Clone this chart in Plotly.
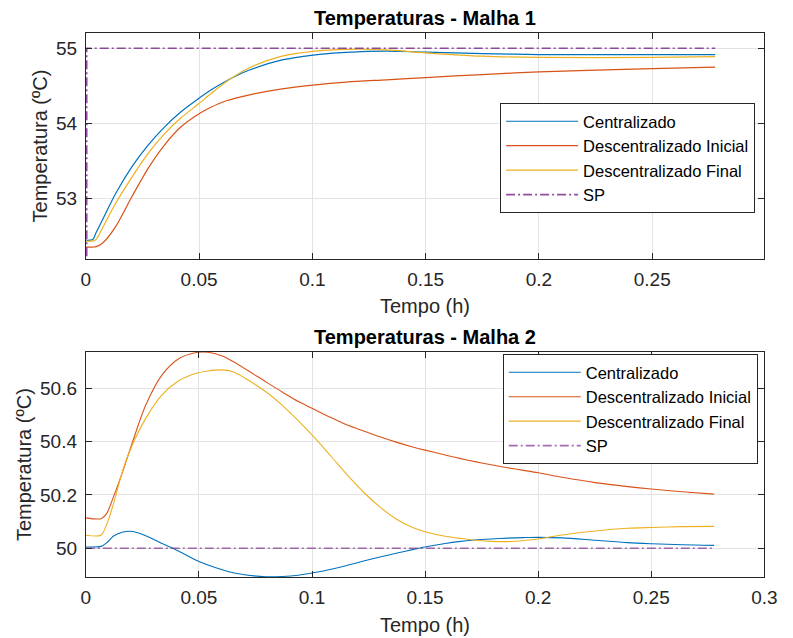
import plotly.graph_objects as go

# ---- Malha 1 (time in hours, temperatures in ºC) ----
t1 = [0, 0.003, 0.0045, 0.0073, 0.0131, 0.0203, 0.0275, 0.0347, 0.0419, 0.0498,
      0.055, 0.062, 0.0722, 0.0866, 0.1003, 0.115, 0.1326, 0.15, 0.175, 0.2,
      0.25, 0.2778]
m1_centralizado = [52.44, 52.45, 52.54, 52.71, 53.06, 53.42, 53.71, 53.95, 54.15, 54.33,
                   54.44, 54.565, 54.71, 54.845, 54.91, 54.945, 54.962, 54.95, 54.93, 54.917,
                   54.915, 54.915]
m1_desc_inicial = [52.35, 52.35, 52.355, 52.40, 52.62, 53.02, 53.40, 53.71, 53.95, 54.125,
                   54.21, 54.30, 54.38, 54.46, 54.51, 54.55, 54.58, 54.61, 54.65, 54.685,
                   54.73, 54.75]
m1_desc_final = [52.43, 52.43, 52.45, 52.60, 52.93, 53.28, 53.60, 53.86, 54.07, 54.26,
                 54.39, 54.555, 54.74, 54.895, 54.96, 54.985, 54.98, 54.94, 54.895, 54.878,
                 54.878, 54.888]
sp1_t = [0.0004, 0.0004, 0.2778]
sp1 = [52.0, 55.0, 55.0]

# ---- Malha 2 ----
t2 = [0, 0.0067, 0.0092, 0.0121, 0.0164, 0.0207, 0.0265, 0.0337, 0.0409, 0.0488,
      0.054, 0.06, 0.0651, 0.0796, 0.087, 0.094, 0.1, 0.1084, 0.1156, 0.1228,
      0.13, 0.1372, 0.1445, 0.15, 0.1589, 0.1648, 0.172, 0.1792, 0.1864, 0.1936,
      0.2, 0.2107, 0.2252, 0.2396, 0.25, 0.2637, 0.2778]
m2_centralizado = [50.005, 50.007, 50.02, 50.045, 50.061, 50.063, 50.047, 50.018, 49.99, 49.955,
                   49.937, 49.92, 49.908, 49.893, 49.894, 49.899, 49.907, 49.921, 49.936, 49.952,
                   49.967, 49.981, 49.995, 50.005, 50.018, 50.025, 50.031, 50.035, 50.038, 50.04,
                   50.041, 50.039, 50.03, 50.021, 50.017, 50.013, 50.011]
m2_desc_inicial = [50.114, 50.111, 50.13, 50.19, 50.29, 50.40, 50.537, 50.65, 50.71, 50.734,
                   50.735, 50.722, 50.70, 50.624, 50.585, 50.55, 50.525, 50.49, 50.462, 50.44,
                   50.418, 50.398, 50.38, 50.368, 50.35, 50.338, 50.325, 50.313, 50.302, 50.292,
                   50.283, 50.266, 50.246, 50.231, 50.222, 50.212, 50.203]
m2_desc_final = [50.049, 50.049, 50.089, 50.163, 50.294, 50.39, 50.487, 50.575, 50.627, 50.656,
                 50.665, 50.669, 50.662, 50.587, 50.535, 50.478, 50.425, 50.345, 50.275, 50.21,
                 50.155, 50.11, 50.078, 50.062, 50.045, 50.038, 50.03, 50.026, 50.025, 50.029,
                 50.035, 50.05, 50.065, 50.075, 50.078, 50.081, 50.082]
sp2_t = [0, 0.2778]
sp2 = [50.0, 50.0]

names = ["Centralizado", "Descentralizado Inicial", "Descentralizado Final", "SP"]
colors = ["#0072BD", "#D95319", "#EDB120", "#7E2F8E"]

x_ticks_top = [0, 0.05, 0.1, 0.15, 0.2, 0.25]
x_ticks_bot = [0, 0.05, 0.1, 0.15, 0.2, 0.25, 0.3]
x_tick_text_top = ["0", "0.05", "0.1", "0.15", "0.2", "0.25"]
x_tick_text_bot = ["0", "0.05", "0.1", "0.15", "0.2", "0.25", "0.3"]
y_ticks_top = [53, 54, 55]
y_tick_text_top = ["53", "54", "55"]
y_ticks_bot = [50, 50.2, 50.4, 50.6]
y_tick_text_bot = ["50", "50.2", "50.4", "50.6"]

FONT = "Liberation Sans, Arial, Helvetica, sans-serif"
SP_DASH = "9px,3px,2px,3px"

fig = go.Figure()

series_top = [(t1, m1_centralizado), (t1, m1_desc_inicial), (t1, m1_desc_final)]
for i, (tx, ty) in enumerate(series_top):
    fig.add_trace(go.Scatter(x=tx, y=ty, name=names[i], mode="lines",
                             line=dict(color=colors[i], width=1.2, shape="spline", smoothing=0.8),
                             xaxis="x", yaxis="y", legend="legend"))
fig.add_trace(go.Scatter(x=sp1_t, y=sp1, name=names[3], mode="lines",
                         line=dict(color=colors[3], width=1.6, dash=SP_DASH),
                         opacity=0.85, xaxis="x", yaxis="y", legend="legend"))

series_bot = [(t2, m2_centralizado), (t2, m2_desc_inicial), (t2, m2_desc_final)]
for i, (tx, ty) in enumerate(series_bot):
    fig.add_trace(go.Scatter(x=tx, y=ty, name=names[i], mode="lines",
                             line=dict(color=colors[i], width=1.1, shape="spline", smoothing=0.8),
                             xaxis="x2", yaxis="y2", legend="legend2"))
fig.add_trace(go.Scatter(x=sp2_t, y=sp2, name=names[3], mode="lines",
                         line=dict(color=colors[3], width=1.6, dash=SP_DASH),
                         opacity=0.7, xaxis="x2", yaxis="y2", legend="legend2"))

axis_common = dict(
    showline=True, linecolor="#262626", linewidth=1, mirror="allticks",
    ticks="inside", ticklen=6, tickwidth=1, tickcolor="#262626",
    showgrid=True, gridcolor="#e3e3e3", gridwidth=1, zeroline=False,
    tickfont=dict(family=FONT, size=19, color="#262626"),
)

legend_common = dict(
    xanchor="left", yanchor="top",
    bgcolor="white", bordercolor="#262626", borderwidth=1,
    font=dict(family=FONT, size=16.5, color="#000000"),
    itemwidth=72, tracegroupgap=0,
)

fig.update_layout(
    width=793, height=638, autosize=False,
    margin=dict(l=0, r=0, t=0, b=0),
    paper_bgcolor="white", plot_bgcolor="white",
    font=dict(family=FONT, color="#262626"),
    xaxis=dict(domain=[0.1043, 0.9798], range=[0, 0.2995], anchor="y",
               tickvals=x_ticks_top, ticktext=x_tick_text_top, ticklabelstandoff=3,
               **axis_common),
    yaxis=dict(domain=[0.5936, 0.9478], range=[52.187, 55.2], anchor="x",
               tickvals=y_ticks_top, ticktext=y_tick_text_top, ticklabelstandoff=4,
               **axis_common),
    xaxis2=dict(domain=[0.1043, 0.9798], range=[0, 0.3], anchor="y2",
                tickvals=x_ticks_bot, ticktext=x_tick_text_bot, ticklabelstandoff=3,
                **axis_common),
    yaxis2=dict(domain=[0.0951, 0.4487], range=[49.891, 50.737], anchor="x2",
                tickvals=y_ticks_bot, ticktext=y_tick_text_bot, ticklabelstandoff=4,
                **axis_common),
    legend=dict(x=(501.6 + 5) / 793, y=1 - 103 / 638, **legend_common),
    legend2=dict(x=(503.3 + 6) / 793, y=1 - 354 / 638, **legend_common),
    showlegend=True,
)

annotations = [
    dict(text="<b>Temperaturas - Malha 1</b>", x=0.5422, y=1 - 18 / 638,
         font=dict(size=20, color="#000000")),
    dict(text="<b>Temperaturas - Malha 2</b>", x=0.5422, y=1 - 337 / 638,
         font=dict(size=20, color="#000000")),
    dict(text="Tempo (h)", x=0.5422, y=1 - 306 / 638,
         font=dict(size=20, color="#262626")),
    dict(text="Tempo (h)", x=0.5422, y=1 - 625 / 638,
         font=dict(size=20, color="#262626")),
    dict(text="Temperatura (ºC)", x=36 / 793, y=1 - 146.3 / 638, textangle=-90,
         font=dict(size=20, color="#262626")),
    dict(text="Temperatura (ºC)", x=19 / 793, y=1 - 464.5 / 638, textangle=-90,
         font=dict(size=20, color="#262626")),
]
for a in annotations:
    a.update(xref="paper", yref="paper", showarrow=False, xanchor="center", yanchor="middle")
    a["font"]["family"] = FONT
fig.update_layout(annotations=annotations)

fig.write_html("out.html")
